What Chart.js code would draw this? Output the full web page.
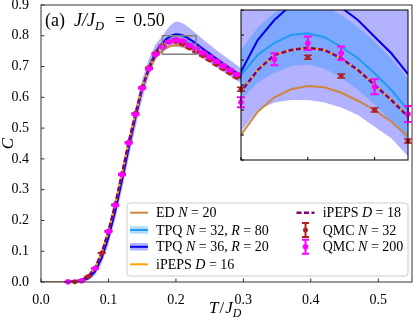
<!DOCTYPE html>
<html lang="en">
<head>
<meta charset="UTF-8" />
<title>Specific heat C versus T/J_D</title>
<script src="https://cdn.jsdelivr.net/npm/chart.js"></script>
<style>
    html, body { margin: 0; padding: 0; background: #fff; }
    #wrap { position: relative; width: 416px; height: 320px; }
    #mainChart { position: absolute; left: 0; top: 0; }
    #insetChart { position: absolute; left: 236px; top: 5px; }
</style>
</head>
<body>
<div id="wrap">
    <canvas id="mainChart" width="416" height="320"></canvas>
    <canvas id="insetChart" width="178" height="160"></canvas>
</div>
<script>
const SERIF = '"Liberation Serif", "DejaVu Serif", serif';

// axes
const xRange = [0, 0.55];
const yRange = [0, 0.9];
const xTicks = [0.0, 0.1, 0.2, 0.3, 0.4, 0.5];
const yTicks = [0.0, 0.1, 0.2, 0.3, 0.4, 0.5, 0.6, 0.7, 0.8, 0.9];
const insetXRange = [0.18, 0.23];
const insetYRange = [0.74, 0.80];
const insetXTicks = [0.18, 0.20, 0.22];
const insetYTicks = [0.74, 0.75, 0.76, 0.77, 0.78, 0.79, 0.80];

// ED N = 20
const edT = [0.0, 0.01, 0.02, 0.03, 0.04, 0.05, 0.06, 0.07, 0.08, 0.09, 0.10, 0.11, 0.12, 0.13, 0.14, 0.15, 0.16, 0.17,
    0.175, 0.18, 0.185, 0.19, 0.195, 0.20, 0.205, 0.21, 0.215, 0.22, 0.225, 0.23,
    0.24, 0.25, 0.26, 0.27, 0.28, 0.29, 0.30, 0.32, 0.35, 0.40];
const edC = [0, 0, 0, 0, 0.0005, 0.002, 0.006, 0.019, 0.046, 0.095, 0.166, 0.252, 0.352, 0.454, 0.547, 0.629, 0.690, 0.731,
    0.742, 0.750, 0.7593, 0.7651, 0.7683, 0.7696, 0.7691, 0.7669, 0.7637, 0.7600, 0.7553, 0.7496,
    0.738, 0.726, 0.713, 0.700, 0.687, 0.674, 0.661, 0.635, 0.597, 0.540];

// TPQ and iPEPS share one temperature grid
const gridT = [0.04, 0.05, 0.06, 0.07, 0.08, 0.09, 0.10, 0.11, 0.12, 0.13, 0.14, 0.15, 0.16, 0.17,
    0.175, 0.18, 0.185, 0.19, 0.195, 0.20, 0.205, 0.21, 0.215, 0.22, 0.225, 0.23,
    0.24, 0.25, 0.26, 0.27, 0.28, 0.29, 0.30, 0.32, 0.35, 0.40];
const tpq32C = [0.0005, 0.002, 0.006, 0.017, 0.042, 0.090, 0.160, 0.246, 0.346, 0.449, 0.543, 0.630, 0.697, 0.745,
    0.762, 0.774, 0.782, 0.7869, 0.790, 0.7907, 0.7891, 0.7853, 0.7807, 0.7747, 0.768, 0.760,
    0.746, 0.731, 0.716, 0.701, 0.687, 0.673, 0.659, 0.632, 0.594, 0.540];
const tpq32Err = [0.0003, 0.001, 0.002, 0.004, 0.006, 0.008, 0.009, 0.010, 0.010, 0.010, 0.010, 0.010, 0.010, 0.010,
    0.010, 0.010, 0.011, 0.012, 0.0125, 0.0125, 0.0125, 0.0125, 0.0125, 0.0125, 0.0125, 0.0125,
    0.012, 0.012, 0.012, 0.011, 0.011, 0.011, 0.011, 0.010, 0.010, 0.010];
const tpq36C = [0.0003, 0.001, 0.004, 0.012, 0.034, 0.078, 0.145, 0.230, 0.330, 0.435, 0.534, 0.626, 0.697, 0.747,
    0.762, 0.7753, 0.788, 0.796, 0.802, 0.805, 0.804, 0.801, 0.796, 0.7893, 0.7827, 0.7744,
    0.758, 0.742, 0.726, 0.710, 0.695, 0.680, 0.666, 0.638, 0.598, 0.541];
const tpq36Err = [0.0003, 0.001, 0.003, 0.007, 0.012, 0.018, 0.023, 0.027, 0.030, 0.032, 0.033, 0.032, 0.028, 0.026,
    0.024, 0.024, 0.028, 0.033, 0.038, 0.041, 0.041, 0.040, 0.038, 0.036, 0.034, 0.033,
    0.031, 0.029, 0.028, 0.027, 0.026, 0.025, 0.024, 0.023, 0.022, 0.020];
const ipeps16C = [0.0005, 0.002, 0.006, 0.018, 0.045, 0.094, 0.165, 0.251, 0.351, 0.453, 0.546, 0.631, 0.694, 0.741,
    0.756, 0.7673, 0.776, 0.782, 0.784, 0.7849, 0.784, 0.7807, 0.776, 0.770, 0.764, 0.7573,
    0.744, 0.730, 0.716, 0.702, 0.688, 0.674, 0.660, 0.633, 0.595, 0.540];
const ipeps18C = [0.0005, 0.002, 0.006, 0.018, 0.045, 0.094, 0.165, 0.251, 0.351, 0.453, 0.546, 0.631, 0.694, 0.741,
    0.756, 0.7673, 0.776, 0.782, 0.784, 0.7849, 0.784, 0.7807, 0.776, 0.770, 0.764, 0.7573,
    0.744, 0.730, 0.716, 0.702, 0.688, 0.674, 0.660, 0.633, 0.595, 0.540];

// QMC
const qmc32T = [0.05, 0.07, 0.09, 0.10, 0.11, 0.12, 0.13, 0.14, 0.15, 0.16, 0.17, 0.18, 0.20, 0.21, 0.22, 0.23,
    0.24, 0.25, 0.26, 0.27, 0.28, 0.29];
const qmc32C = [0.001, 0.018, 0.094, 0.166, 0.252, 0.352, 0.455, 0.548, 0.633, 0.697, 0.744, 0.7683, 0.7811, 0.7736, 0.7600, 0.7476,
    0.735, 0.721, 0.707, 0.693, 0.679, 0.665];
const qmc32Err = [0.0003, 0.0005, 0.0008, 0.0008, 0.0008, 0.0008, 0.0008, 0.0008, 0.0008, 0.0008, 0.0008, 0.0008, 0.0008, 0.0008, 0.0008, 0.0008,
    0.0008, 0.0008, 0.0008, 0.0008, 0.0008, 0.0008];
const qmc200T = [0.04, 0.06, 0.08, 0.10, 0.11, 0.12, 0.13, 0.14, 0.15, 0.16, 0.17, 0.18, 0.19, 0.20, 0.21, 0.22, 0.23,
    0.24, 0.25, 0.26, 0.27, 0.28, 0.29];
const qmc200C = [0.0005, 0.004, 0.044, 0.164, 0.249, 0.349, 0.452, 0.545, 0.630, 0.693, 0.740, 0.7631, 0.7803, 0.7867, 0.7827, 0.7693, 0.7584,
    0.745, 0.731, 0.717, 0.703, 0.689, 0.675];
const qmc200Err = [0.0002, 0.0005, 0.001, 0.0015, 0.0015, 0.002, 0.002, 0.002, 0.002, 0.002, 0.002, 0.002, 0.0024, 0.0027, 0.0027, 0.003, 0.0032,
    0.003, 0.003, 0.003, 0.003, 0.003, 0.003];

const ED_COLOR = '#cd853f';
const TPQ32_COLOR = '#1f9bf0';
const TPQ36_COLOR = '#0000ee';
const BAND32 = 'rgba(30, 150, 255, 0.35)';
const BAND36 = 'rgba(0, 0, 255, 0.3)';
const IPEPS16_COLOR = '#ffa500';
const IPEPS18_COLOR = '#800080';
const QMC32_COLOR = '#b22222';
const QMC200_COLOR = '#ff00ff';

const pts = (xs, ys) => xs.map((x, i) => ({ x, y: ys[i] }));
const shift = (ys, es, s) => ys.map((y, i) => y + s * es[i]);

function makeDatasets() {
    const line = (data, color, width, order, extra) => Object.assign({
        data, borderColor: color, borderWidth: width, pointRadius: 0, tension: 0, fill: false, order
    }, extra || {});
    const band = (ys, es, color, order) => [
        { data: pts(gridT, shift(ys, es, 1)), borderWidth: 0, pointRadius: 0, fill: false, order },
        { data: pts(gridT, shift(ys, es, -1)), borderWidth: 0, pointRadius: 0, fill: '-1', backgroundColor: color, order }
    ];
    const marks = (xs, ys, es, color, r, w, cap, order) => ({
        data: pts(xs, ys), errors: es, errWidth: w, capHalf: cap,
        showLine: false, borderColor: color, pointBackgroundColor: color, pointBorderWidth: 0,
        pointRadius: r, clip: false, order
    });
    return [
        ...band(tpq36C, tpq36Err, BAND36, 20),
        ...band(tpq32C, tpq32Err, BAND32, 19),
        line(pts(edT, edC), ED_COLOR, 2, 6),
        line(pts(gridT, tpq32C), TPQ32_COLOR, 2, 5),
        line(pts(gridT, tpq36C), TPQ36_COLOR, 2, 4),
        line(pts(gridT, ipeps16C), IPEPS16_COLOR, 2, 3),
        line(pts(gridT, ipeps18C), IPEPS18_COLOR, 2.5, 2, { borderDash: [5, 2.5] }),
        marks(qmc32T, qmc32C, qmc32Err, QMC32_COLOR, 2.5, 1.5, 4, 1),
        marks(qmc200T, qmc200C, qmc200Err, QMC200_COLOR, 2.8, 2, 4, 0)
    ];
}

// error bars are drawn just before their own markers
const errorBars = {
    id: 'errorBars',
    beforeDatasetDraw(chart, args) {
        const ds = chart.data.datasets[args.index];
        if (!ds.errors) return;
        const { ctx, scales: { x, y } } = chart;
        const ey = (y.max - y.min) * 0.02;
        ctx.save();
        ctx.strokeStyle = ds.borderColor;
        ctx.lineWidth = ds.errWidth;
        ds.data.forEach((p, i) => {
            if (p.x < x.min - 1e-9 || p.x > x.max + 1e-9 || p.y < y.min - ey || p.y > y.max + ey) return;
            const px = x.getPixelForValue(p.x);
            const lo = y.getPixelForValue(p.y - ds.errors[i]);
            const hi = y.getPixelForValue(p.y + ds.errors[i]);
            ctx.beginPath();
            ctx.moveTo(px, lo); ctx.lineTo(px, hi);
            ctx.moveTo(px - ds.capHalf, lo); ctx.lineTo(px + ds.capHalf, lo);
            ctx.moveTo(px - ds.capHalf, hi); ctx.lineTo(px + ds.capHalf, hi);
            ctx.stroke();
        });
        ctx.restore();
    }
};

// frame, inward ticks and optional white panel
function makePanel(cfg) {
    return {
        id: 'panel',
        beforeDraw(chart) {
            if (!cfg.fill) return;
            const a = chart.chartArea, ctx = chart.ctx;
            ctx.save();
            ctx.fillStyle = cfg.fill;
            ctx.fillRect(a.left, a.top, a.right - a.left, a.bottom - a.top);
            ctx.restore();
        },
        afterDatasetsDraw(chart) {
            const { ctx, chartArea: a, scales: { x, y } } = chart;
            ctx.save();
            ctx.strokeStyle = cfg.color;
            ctx.lineWidth = cfg.width;
            ctx.beginPath();
            cfg.xTicks.forEach(v => {
                const px = x.getPixelForValue(v);
                ctx.moveTo(px, a.bottom); ctx.lineTo(px, a.bottom - cfg.len);
            });
            cfg.yTicks.forEach(v => {
                const py = y.getPixelForValue(v);
                ctx.moveTo(a.left, py); ctx.lineTo(a.left + cfg.len, py);
            });
            ctx.stroke();
            ctx.strokeRect(a.left, a.top, a.right - a.left, a.bottom - a.top);
            ctx.restore();
        }
    };
}

// text made of plain / italic / subscript pieces; numbers are extra gaps
function drawParts(ctx, x, y, parts, size) {
    parts.forEach(p => {
        if (typeof p === 'number') { x += p; return; }
        const [t, it, sub] = p;
        const fs = sub ? size * 0.7 : size;
        ctx.font = (it ? 'italic ' : '') + fs + 'px ' + SERIF;
        ctx.fillText(t, x, y + (sub ? size * 0.24 : 0));
        x += ctx.measureText(t).width;
    });
    return x;
}

const legendItems = [
    { col: 0, row: 0, kind: 'line', color: ED_COLOR, parts: [['ED '], ['N', 1], [' = 20']] },
    { col: 0, row: 1, kind: 'band', color: TPQ32_COLOR, fill: BAND32, parts: [['TPQ '], ['N', 1], [' = 32, '], ['R', 1], [' = 80']] },
    { col: 0, row: 2, kind: 'band', color: TPQ36_COLOR, fill: BAND36, parts: [['TPQ '], ['N', 1], [' = 36, '], ['R', 1], [' = 20']] },
    { col: 0, row: 3, kind: 'line', color: IPEPS16_COLOR, parts: [['iPEPS '], ['D', 1], [' = 16']] },
    { col: 1, row: 0, kind: 'dash', color: IPEPS18_COLOR, parts: [['iPEPS '], ['D', 1], [' = 18']] },
    { col: 1, row: 1, kind: 'err', color: QMC32_COLOR, r: 2.5, parts: [['QMC '], ['N', 1], [' = 32']] },
    { col: 1, row: 2, kind: 'err', color: QMC200_COLOR, r: 2.8, parts: [['QMC '], ['N', 1], [' = 200']] }
];

const decor = {
    id: 'decor',
    afterDraw(chart) {
        const { ctx, scales: { x, y } } = chart;
        ctx.save();
        // zoom window indicator
        ctx.strokeStyle = '#808080';
        ctx.lineWidth = 1.5;
        const bx0 = x.getPixelForValue(insetXRange[0]), bx1 = x.getPixelForValue(insetXRange[1]);
        const by0 = y.getPixelForValue(insetYRange[1]), by1 = y.getPixelForValue(insetYRange[0]);
        ctx.strokeRect(bx0, by0, bx1 - bx0, by1 - by0);

        ctx.fillStyle = '#000';
        ctx.textBaseline = 'alphabetic';
        drawParts(ctx, 45, 26, [['(a)'], 9, ['J/J', 1], ['D', 1, 1], 11, ['='], 8, ['0.50']], 18);
        drawParts(ctx, 209, 313, [['T', 1], 1, ['/'], 1, ['J', 1], ['D', 1, 1]], 17);

        // legend
        const L = { x: 127, y: 203, w: 281, h: 73, r: 3 };
        ctx.beginPath();
        ctx.moveTo(L.x + L.r, L.y);
        ctx.arcTo(L.x + L.w, L.y, L.x + L.w, L.y + L.h, L.r);
        ctx.arcTo(L.x + L.w, L.y + L.h, L.x, L.y + L.h, L.r);
        ctx.arcTo(L.x, L.y + L.h, L.x, L.y, L.r);
        ctx.arcTo(L.x, L.y, L.x + L.w, L.y, L.r);
        ctx.closePath();
        ctx.fillStyle = 'rgba(255,255,255,0.8)';
        ctx.fill();
        ctx.strokeStyle = '#cccccc';
        ctx.lineWidth = 1;
        ctx.stroke();

        const rowY = [212.7, 230, 246.8, 264.3];
        const hx = [130, 296.5], tx = [156, 322.7], hw = 18;
        legendItems.forEach(it => {
            const cy = rowY[it.row], x0 = hx[it.col];
            ctx.save();
            if (it.kind === 'band') {
                ctx.fillStyle = it.fill;
                ctx.fillRect(x0, cy - 3.7, hw, 7.4);
            }
            if (it.kind === 'err') {
                const cx = x0 + hw / 2;
                ctx.strokeStyle = it.color;
                ctx.lineWidth = 2;
                ctx.beginPath();
                ctx.moveTo(cx, cy - 7); ctx.lineTo(cx, cy + 7);
                ctx.moveTo(cx - 3.5, cy - 7); ctx.lineTo(cx + 3.5, cy - 7);
                ctx.moveTo(cx - 3.5, cy + 7); ctx.lineTo(cx + 3.5, cy + 7);
                ctx.stroke();
                ctx.fillStyle = it.color;
                ctx.beginPath();
                ctx.arc(cx, cy, it.r, 0, Math.PI * 2);
                ctx.fill();
            } else {
                ctx.strokeStyle = it.color;
                ctx.lineWidth = it.kind === 'dash' ? 2.5 : 2;
                if (it.kind === 'dash') ctx.setLineDash([5, 2.5]);
                ctx.beginPath();
                ctx.moveTo(x0, cy); ctx.lineTo(x0 + hw, cy);
                ctx.stroke();
            }
            ctx.restore();
            ctx.fillStyle = '#000';
            drawParts(ctx, tx[it.col], cy + 4.6, it.parts, 14);
        });
        ctx.restore();
    }
};

const tickFont = { family: SERIF, size: 14 };

new Chart(document.getElementById('mainChart'), {
    type: 'line',
    data: { datasets: makeDatasets() },
    options: {
        responsive: false,
        animation: false,
        devicePixelRatio: 1,
        events: [],
        layout: { padding: { left: 0, top: 5, right: 3, bottom: 0 } },
        plugins: {
            legend: { display: false },
            tooltip: { enabled: false },
            filler: { drawTime: 'beforeDatasetsDraw' }
        },
        scales: {
            x: {
                type: 'linear', min: xRange[0], max: xRange[1],
                afterBuildTicks: s => { s.ticks = xTicks.map(v => ({ value: v })); },
                afterFit: s => { s.height = 38; s.paddingLeft = 0; s.paddingRight = 0; },
                ticks: { color: '#000', font: tickFont, padding: 2, maxRotation: 0, autoSkip: false, callback: v => v.toFixed(1) },
                grid: { display: false },
                border: { display: false }
            },
            y: {
                type: 'linear', min: yRange[0], max: yRange[1],
                afterBuildTicks: s => { s.ticks = yTicks.map(v => ({ value: v })); },
                afterFit: s => { s.width = 41; s.paddingTop = 0; s.paddingBottom = 0; },
                ticks: { color: '#000', font: tickFont, padding: 4, autoSkip: false, callback: v => v.toFixed(1) },
                grid: { display: false },
                border: { display: false },
                title: { display: true, text: 'C', color: '#000', padding: 0, font: { family: SERIF, size: 17, style: 'italic', lineHeight: 1 } }
            }
        }
    },
    plugins: [errorBars, makePanel({ xTicks, yTicks, len: 3.5, color: '#333', width: 1 }), decor]
});

new Chart(document.getElementById('insetChart'), {
    type: 'line',
    data: { datasets: makeDatasets() },
    options: {
        responsive: false,
        animation: false,
        devicePixelRatio: 1,
        events: [],
        layout: { padding: { left: 5, top: 5, right: 6, bottom: 5 } },
        plugins: {
            legend: { display: false },
            tooltip: { enabled: false },
            filler: { drawTime: 'beforeDatasetsDraw' }
        },
        scales: {
            x: { type: 'linear', display: false, min: insetXRange[0], max: insetXRange[1] },
            y: { type: 'linear', display: false, min: insetYRange[0], max: insetYRange[1] }
        }
    },
    plugins: [errorBars, makePanel({ xTicks: insetXTicks, yTicks: insetYTicks, len: 3, color: '#000', width: 1, fill: '#fff' })]
});
</script>
</body>
</html>
